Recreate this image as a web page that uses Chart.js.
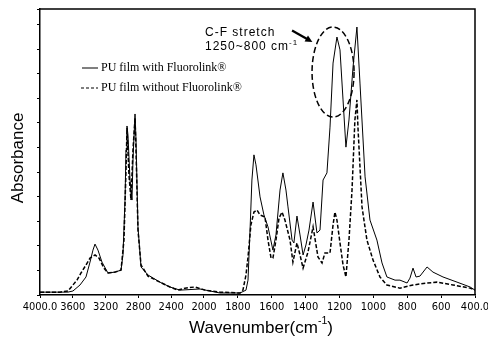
<!DOCTYPE html>
<html>
<head>
<meta charset="utf-8">
<script src="https://cdn.jsdelivr.net/npm/chart.js@4/dist/chart.umd.min.js"></script>
<style>
    html, body { margin: 0; padding: 0; background: #fff; }
</style>
</head>
<body>
<canvas id="ftirChart" width="488" height="346"></canvas>
<script>
// FTIR spectra (absorbance in arbitrary units, 0 = frame bottom, 100 = frame top)

var withWave = [4000, 3817, 3659, 3598, 3512, 3439, 3390, 3354, 3329, 3293, 3244, 3171, 3085, 3012, 2988,
    2963, 2951, 2939, 2927, 2902, 2878, 2866, 2841, 2829, 2805, 2768, 2683, 2537, 2415, 2293, 2049, 1906,
    1787, 1752, 1740, 1728, 1717, 1705, 1693, 1669, 1646, 1622, 1593, 1575, 1551, 1534, 1516, 1504, 1480,
    1469, 1451, 1433, 1415, 1398, 1380, 1356, 1333, 1315, 1297, 1274, 1256, 1238, 1215, 1197, 1179, 1162,
    1144, 1120, 1097, 1079, 1049, 1020, 979, 949, 920, 872, 843, 801, 784, 766, 748, 725, 683, 648, 589,
    506, 429, 400];
var withAbs = [1.0, 1.0, 1.0, 1.4, 3.5, 6.3, 11.5, 15.7, 17.8, 15.7, 11.5, 7.7, 8.0, 8.7, 14.0,
    33.2, 50.7, 59.1, 55.9, 40.2, 33.2, 47.2, 63.3, 54.2, 23.8, 9.8, 7.0, 4.5, 2.8, 1.7, 2.1, 0.7,
    0.7, 1.7, 5.2, 22.7, 40.2, 49.0, 45.5, 34.3, 28.0, 23.8, 15.7, 21.0, 36.7, 42.7, 36.7, 30.8, 19.2,
    18.2, 27.6, 21.0, 14.0, 17.5, 22.7, 32.5, 21.7, 22.7, 40.2, 42.7, 58.7, 81.1, 90.2, 85.7, 68.2, 51.7,
    61.2, 79.7, 93.7, 74.1, 41.3, 26.2, 19.2, 11.2, 6.3, 5.2, 5.2, 4.2, 5.9, 9.4, 6.3, 6.6, 9.8, 8.0, 6.3,
    4.5, 2.8, 1.7];

var withoutWave = [4000, 3756, 3659, 3610, 3549, 3500, 3439, 3390, 3329, 3280, 3220, 3171, 3085, 3012,
    2976, 2951, 2939, 2915, 2890, 2866, 2841, 2829, 2805, 2768, 2683, 2537, 2415, 2317, 2232, 2110, 1994,
    1906, 1787, 1770, 1752, 1740, 1723, 1705, 1687, 1669, 1640, 1622, 1604, 1593, 1575, 1557, 1539, 1522,
    1492, 1475, 1451, 1433, 1415, 1386, 1356, 1327, 1303, 1286, 1256, 1238, 1227, 1215, 1197, 1179, 1162,
    1144, 1126, 1109, 1097, 1091, 1067, 1038, 1002, 961, 920, 843, 766, 683, 624, 530, 429, 400];
var withoutAbs = [1.0, 1.0, 1.4, 3.1, 5.2, 7.7, 10.5, 12.9, 14.0, 12.9, 9.4, 7.7, 8.0, 8.7,
    19.2, 43.7, 58.4, 42.0, 33.2, 50.7, 61.9, 50.7, 22.7, 10.5, 6.6, 4.5, 2.8, 1.7, 2.4, 2.8, 1.7,
    1.0, 0.7, 1.7, 7.0, 13.3, 24.5, 29.0, 29.7, 28.0, 27.3, 19.2, 12.9, 12.9, 19.2, 26.9, 29.0, 26.2,
    19.2, 11.5, 18.2, 14.0, 9.4, 15.0, 23.8, 13.3, 11.2, 14.7, 14.7, 24.5, 29.0, 26.2, 18.2, 10.5, 6.3,
    19.2, 36.7, 61.2, 68.2, 58.7, 30.8, 19.2, 12.2, 6.3, 3.5, 2.4, 3.5, 4.2, 4.5, 3.5, 2.4, 1.7];

var tickWaves = [4000, 3600, 3200, 2800, 2400, 2000, 1800, 1600, 1400, 1200, 1000, 800, 600, 400];
var tickLabels = ['4000.0', '3600', '3200', '2800', '2400', '2000', '1800', '1600', '1400', '1200', '1000', '800', '600', '400.0'];

// the wavenumber axis is squeezed above 2000 cm-1, like most FTIR plots
var BREAK = 2000;
var SQUEEZE = 0.484;

function toAxis(w) {
    return w <= BREAK ? w : BREAK + (w - BREAK) * SQUEEZE;
}

function toPoints(waves, values) {
    return waves.map(function (w, i) {
        return { x: toAxis(w), y: values[i] };
    });
}

// text with a superscript part, centred on x
function drawSupText(ctx, parts, x, y, size, font) {
    var widths = parts.map(function (p) {
        ctx.font = (p.sup ? size * 0.62 : size) + 'px ' + font;
        return ctx.measureText(p.text).width;
    });
    var total = widths.reduce(function (a, b) { return a + b; }, 0);
    var cx = x - total / 2;
    parts.forEach(function (p, i) {
        ctx.font = (p.sup ? size * 0.62 : size) + 'px ' + font;
        ctx.fillText(p.text, cx, p.sup ? y - size * 0.4 : y);
        cx += widths[i];
    });
}

var decorations = {
    id: 'decorations',
    afterDraw: function (chart) {
        var ctx = chart.ctx;
        var area = chart.chartArea;
        var xs = chart.scales.x;
        var ys = chart.scales.y;
        ctx.save();

        // frame top and right
        ctx.strokeStyle = '#000';
        ctx.lineWidth = 1.5;
        ctx.beginPath();
        ctx.moveTo(area.left, area.top);
        ctx.lineTo(area.right, area.top);
        ctx.lineTo(area.right, area.bottom);
        ctx.stroke();

        // axis titles
        ctx.fillStyle = '#000';
        ctx.textBaseline = 'middle';
        ctx.textAlign = 'left';
        drawSupText(ctx, [{ text: 'Wavenumber(cm' }, { text: '-1', sup: true }, { text: ')' }],
            261, 328, 17, 'Arial, "Liberation Sans", sans-serif');

        ctx.save();
        ctx.translate(18, 158);
        ctx.rotate(-Math.PI / 2);
        ctx.textAlign = 'center';
        ctx.font = '17px Arial, "Liberation Sans", sans-serif';
        ctx.fillText('Absorbance', 0, 0);
        ctx.restore();

        // legend
        ctx.lineWidth = 1;
        ctx.beginPath();
        ctx.moveTo(area.left + 42, area.top + 59);
        ctx.lineTo(area.left + 58, area.top + 59);
        ctx.stroke();
        ctx.lineWidth = 1.2;
        ctx.setLineDash([3, 2]);
        ctx.beginPath();
        ctx.moveTo(area.left + 41, area.top + 79);
        ctx.lineTo(area.left + 58, area.top + 79);
        ctx.stroke();
        ctx.setLineDash([]);
        ctx.textAlign = 'left';
        ctx.font = '12px "Liberation Serif", "Times New Roman", serif';
        ctx.fillText('PU film with Fluorolink\u00ae', area.left + 61, area.top + 59);
        ctx.fillText('PU film without Fluorolink\u00ae', area.left + 61, area.top + 79);

        // C-F note
        ctx.letterSpacing = '1px';
        ctx.font = '12px Arial, "Liberation Sans", sans-serif';
        ctx.fillText('C-F stretch', 205, 33);
        ctx.fillText('1250~800 cm', 205, 47);
        var w = ctx.measureText('1250~800 cm').width;
        ctx.font = '8px Arial, "Liberation Sans", sans-serif';
        ctx.fillText('-1', 205 + w, 43);
        ctx.letterSpacing = '0px';

        // ellipse round the C-F band
        var eL = xs.getPixelForValue(toAxis(1362));
        var eR = xs.getPixelForValue(toAxis(1114));
        var eT = ys.getPixelForValue(93.7);
        var eB = ys.getPixelForValue(62.2);
        ctx.lineWidth = 1.5;
        ctx.setLineDash([6, 3]);
        ctx.beginPath();
        ctx.ellipse((eL + eR) / 2, (eT + eB) / 2, (eR - eL) / 2, (eB - eT) / 2, 0, 0, Math.PI * 2);
        ctx.stroke();
        ctx.setLineDash([]);

        // arrow
        var ax1 = xs.getPixelForValue(toAxis(1480)), ay1 = ys.getPixelForValue(92.5);
        var ax2 = xs.getPixelForValue(toAxis(1360)), ay2 = ys.getPixelForValue(88.5);
        var ang = Math.atan2(ay2 - ay1, ax2 - ax1);
        ctx.lineWidth = 2.2;
        ctx.beginPath();
        ctx.moveTo(ax1, ay1);
        ctx.lineTo(ax2 - 4 * Math.cos(ang), ay2 - 4 * Math.sin(ang));
        ctx.stroke();
        ctx.beginPath();
        ctx.moveTo(ax2, ay2);
        ctx.lineTo(ax2 - 7 * Math.cos(ang) + 3.5 * Math.sin(ang), ay2 - 7 * Math.sin(ang) - 3.5 * Math.cos(ang));
        ctx.lineTo(ax2 - 7 * Math.cos(ang) - 3.5 * Math.sin(ang), ay2 - 7 * Math.sin(ang) + 3.5 * Math.cos(ang));
        ctx.closePath();
        ctx.fill();

        ctx.restore();
    }
};

var ctx = document.getElementById('ftirChart').getContext('2d');
var ftirChart = new Chart(ctx, {
    type: 'line',
    data: {
        datasets: [{
            label: 'PU film with Fluorolink®',
            data: toPoints(withWave, withAbs),
            borderColor: '#000',
            borderWidth: 1,
            pointRadius: 0,
            tension: 0,
            fill: false
        }, {
            label: 'PU film without Fluorolink®',
            data: toPoints(withoutWave, withoutAbs),
            borderColor: '#000',
            borderWidth: 1.5,
            borderDash: [4, 2],
            pointRadius: 0,
            tension: 0,
            fill: false
        }]
    },
    options: {
        responsive: false,
        animation: false,
        layout: { padding: { top: 9, right: 13, left: 0, bottom: 0 } },
        plugins: {
            legend: { display: false },
            tooltip: { enabled: false }
        },
        scales: {
            x: {
                type: 'linear',
                reverse: true,
                min: toAxis(400),
                max: toAxis(4000),
                afterBuildTicks: function (scale) {
                    scale.ticks = tickWaves.map(function (w) { return { value: toAxis(w) }; });
                },
                afterFit: function (scale) {
                    scale.height = 51;
                    scale.paddingLeft = 0;
                    scale.paddingRight = 0;
                },
                ticks: {
                    autoSkip: false,
                    maxRotation: 0,
                    minRotation: 0,
                    padding: 3,
                    color: '#000',
                    font: { family: '"DejaVu Sans Condensed", Arial, sans-serif', size: 11 },
                    callback: function (value, index) {
                        return tickLabels[index];
                    }
                },
                grid: { drawOnChartArea: false, tickLength: 3, color: '#000' },
                border: { color: '#000', width: 1.5 }
            },
            y: {
                min: 0,
                max: 100,
                afterFit: function (scale) {
                    scale.width = 40;
                },
                ticks: { display: false, stepSize: 8.6 },
                grid: { drawOnChartArea: false, tickLength: 3, color: '#000' },
                border: { color: '#000', width: 1.5 }
            }
        }
    },
    plugins: [decorations]
});
</script>
</body>
</html>
